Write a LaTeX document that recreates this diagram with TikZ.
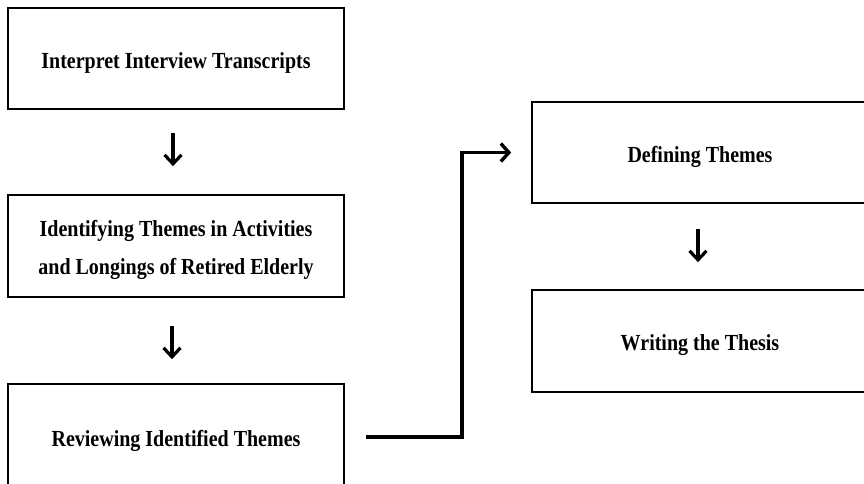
\documentclass[tikz,border=0pt]{standalone}
\usepackage{fontspec}
\usepackage{graphicx}
\setmainfont{Liberation Serif}
\usetikzlibrary{arrows.meta}
\newcommand{\vtxt}[1]{\raisebox{-4pt}[\height][\depth]{\scalebox{1}[1.15]{#1}}}
\begin{document}
\begin{tikzpicture}[x=1pt,y=1pt,
  box/.style={draw=black, line width=1.7pt, minimum width=336pt, minimum height=101pt,
    inner sep=0pt, align=center, font=\fontsize{20}{38}\selectfont\bfseries},
  down/.style={line width=3.2pt, -{Straight Barb[length=9pt,width=17pt,line width=3.2pt]}},
  conn/.style={line width=3.6pt, -{Straight Barb[length=8pt,width=18pt,line width=3.4pt]}}]
\useasboundingbox (0,0) rectangle (864,-483);
\clip (0,0) rectangle (864,-483);
\fill[white] (0,0) rectangle (864,-483);
\node[box] (b1) at (176,-58.5) {\vtxt{Interpret Interview Transcripts}};
\node[box, minimum height=102pt] (b2) at (176,-246) {\vtxt{Identifying Themes in Activities}\\\vtxt{and Longings of Retired Elderly}};
\node[box, minimum height=106pt] (b3) at (176,-437) {\vtxt{Reviewing Identified Themes}};
\node[box] (b4) at (700,-152.5) {\vtxt{Defining Themes}};
\node[box, minimum height=102pt] (b5) at (700,-341) {\vtxt{Writing the Thesis}};
\coordinate (s) at ([xshift=21pt]b3.east);
\coordinate (e) at ([xshift=-20pt]b4.west);
\draw[conn] (s) -- (462,-437) |- (e);
\draw[down] ([xshift=-3pt,yshift=-23pt]b1.south) -- ([xshift=-3pt,yshift=28pt]b2.north);
\draw[down] ([xshift=-4pt,yshift=-28pt]b2.south) -- ([xshift=-4pt,yshift=24pt]b3.north);
\draw[down] ([xshift=-2pt,yshift=-25pt]b4.south) -- ([xshift=-2pt,yshift=27pt]b5.north);
\end{tikzpicture}
\end{document}
